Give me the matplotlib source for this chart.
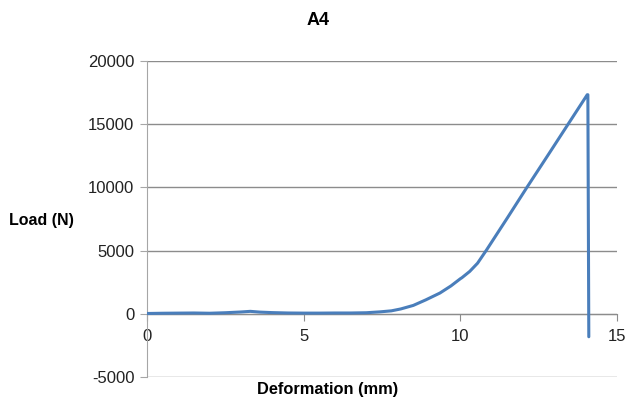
import matplotlib as mpl
mpl.use('Agg')
import matplotlib.pyplot as plt

deformation = [0, 0.5, 1, 1.5, 2, 2.5, 3, 3.3, 3.6, 4, 4.5, 5, 5.5, 6, 6.5, 7, 7.44, 7.8,
               8.1, 8.5, 8.9, 9.35, 9.7, 10.0, 10.05, 10.3, 10.55, 10.84, 11.5, 12.12,
               12.8, 13.4, 14.05, 14.07, 14.1]
load = [20, 40, 50, 60, 40, 80, 140, 190, 130, 90, 60, 50, 50, 60, 60, 80, 150, 230,
        380, 660, 1100, 1640, 2200, 2770, 2850, 3350, 4000, 5060, 7580, 9980,
        12560, 14850, 17330, 17330, -1820]

plt.rcParams['font.family'] = ['Liberation Sans', 'DejaVu Sans']
plt.rcParams['axes.unicode_minus'] = False
fig = plt.figure(figsize=(6.28, 4.04), dpi=100)
ax = fig.add_axes([0.234, 0.067, 0.7485, 0.782])

ax.plot(deformation, load, color='#4A7EBB', lw=2.2, solid_capstyle='round',
        solid_joinstyle='round', zorder=3)

ax.set_xlim(0, 15)
ax.set_ylim(-5000, 20000)
ax.set_yticks(range(-5000, 20001, 5000))
ax.set_xticks([0, 5, 10, 15])
ax.yaxis.grid(True, color='#8c8c8c', lw=1)
ax.set_axisbelow(True)

for s in ['top', 'right']:
    ax.spines[s].set_visible(False)
ax.spines['left'].set_color('#a6a6a6')
ax.spines['bottom'].set_position(('data', 0))
ax.spines['bottom'].set_color('#8c8c8c')
ax.tick_params(axis='y', length=5, color='#a6a6a6', labelsize=12, pad=4, labelcolor='#222222')
ax.tick_params(axis='x', length=5, color='#8c8c8c', labelsize=12, pad=6, labelcolor='#222222')

fig.text(0.507, 0.95, 'A4', fontsize=13, fontweight='bold', ha='center', va='center')
fig.text(0.066, 0.455, 'Load (N)', fontsize=11.5, fontweight='bold', ha='center', va='center')
fig.text(0.522, 0.035, 'Deformation (mm)', fontsize=11.8, fontweight='bold', ha='center', va='center')

fig.savefig('out.png', dpi=100)
